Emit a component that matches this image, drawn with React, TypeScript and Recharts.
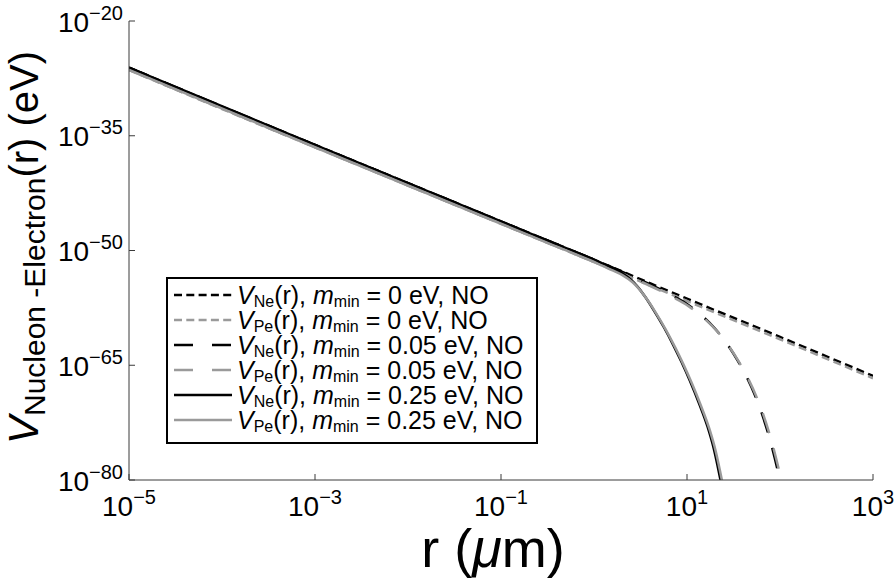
import React from "react";
import { LineChart, Line, XAxis, YAxis, Legend } from "recharts";

const FONT = "'Liberation Sans', Arial, Helvetica, sans-serif";
const FRAME = "#3a3a3a";
const BLACK = "#000000";
const GRAY = "#9a9a9a";

// decades labelled on each axis
const xTickExps = [-5, -3, -1, 1, 3];
const yTickExps = [-80, -65, -50, -35, -20];

// log10 r (µm) and log10 V (eV) along each curve
const zeroLogR = [-5, -4, -3, -2, -1, 0, 1, 2, 3];
const zeroNeLogV = [-26.1, -31.2, -36.2, -41.2, -46.2, -51.2, -56.3, -61.3, -66.4];
const zeroPeLogV = [-26.4, -31.5, -36.5, -41.5, -46.5, -51.5, -56.6, -61.6, -66.7];

const lightNeLogR = [-5, -3, -1, 0, 0.5, 0.78, 1.0, 1.14, 1.3, 1.43, 1.55, 1.64, 1.74, 1.79, 1.87, 1.92, 1.98, 2.0];
const lightNeLogV = [-26.1, -36.2, -46.2, -51.2, -53.85, -55.5, -57.0, -58.3, -60.2, -62.2, -64.5, -66.5, -69.2, -70.8, -73.8, -76.0, -79.0, -80.1];
const lightPeLogR = [-5, -3, -1, 0, 0.52, 0.8, 1.02, 1.16, 1.32, 1.45, 1.57, 1.66, 1.76, 1.81, 1.89, 1.94, 2.0, 2.02];
const lightPeLogV = [-26.4, -36.5, -46.5, -51.5, -54.15, -55.8, -57.3, -58.6, -60.5, -62.5, -64.8, -66.8, -69.5, -71.1, -74.1, -76.3, -79.3, -80.4];

const heavyNeLogR = [-5, -3, -1, -0.5, 0, 0.1, 0.2, 0.3, 0.4, 0.47, 0.55, 0.64, 0.75, 0.85, 0.94, 1.03, 1.13, 1.22, 1.29, 1.36];
const heavyNeLogV = [-26.1, -36.2, -46.2, -48.7, -51.2, -51.75, -52.3, -52.95, -53.85, -54.75, -56.05, -57.75, -60.0, -62.3, -64.55, -67.0, -70.0, -73.0, -76.0, -80.0];
const heavyPeLogR = [-5, -3, -1, -0.5, 0, 0.1, 0.2, 0.31, 0.415, 0.487, 0.568, 0.66, 0.77, 0.87, 0.96, 1.05, 1.15, 1.24, 1.31, 1.38];
const heavyPeLogV = [-26.4, -36.5, -46.5, -49.0, -51.5, -52.05, -52.6, -53.25, -54.15, -55.05, -56.35, -58.05, -60.3, -62.6, -64.85, -67.3, -70.3, -73.3, -76.3, -80.3];

const toPoints = (logR: number[], logV: number[]) =>
  logR.map((lr, i) => ({ r: 10 ** lr, v: 10 ** logV[i] }));

const SHORT_DASH = "8 4.5";
const LONG_DASH = "21 16";

const series = [
  { id: "zeroNe", nucleon: "Ne", mass: "0", color: BLACK, dash: SHORT_DASH, legendDash: "8 4.3", points: toPoints(zeroLogR, zeroNeLogV) },
  { id: "zeroPe", nucleon: "Pe", mass: "0", color: GRAY, dash: SHORT_DASH, legendDash: "8 4.3", points: toPoints(zeroLogR, zeroPeLogV) },
  { id: "lightNe", nucleon: "Ne", mass: "0.05", color: BLACK, dash: LONG_DASH, legendDash: "19 19", points: toPoints(lightNeLogR, lightNeLogV) },
  { id: "lightPe", nucleon: "Pe", mass: "0.05", color: GRAY, dash: LONG_DASH, legendDash: "19 19", points: toPoints(lightPeLogR, lightPeLogV) },
  { id: "heavyNe", nucleon: "Ne", mass: "0.25", color: BLACK, dash: undefined, legendDash: undefined, points: toPoints(heavyNeLogR, heavyNeLogV) },
  { id: "heavyPe", nucleon: "Pe", mass: "0.25", color: GRAY, dash: undefined, legendDash: undefined, points: toPoints(heavyPeLogR, heavyPeLogV) },
];

const xTicks = xTickExps.map((e) => 10 ** e);
const yTicks = yTickExps.map((e) => 10 ** e);
const xDomain = [xTicks[0], xTicks[xTicks.length - 1]];
const yDomain = [yTicks[0], yTicks[yTicks.length - 1]];

const expText = (v: number) => {
  const e = Math.round(Math.log10(v));
  return e < 0 ? "\u2212" + Math.abs(e) : String(e);
};

const TICK_LEN = 6;

function BottomTick({ x, y, payload }: any) {
  return (
    <g>
      <line x1={x} x2={x} y1={y} y2={y - TICK_LEN} stroke={FRAME} />
      <text x={x} y={y + 36} textAnchor="middle" fontFamily={FONT} fontSize={28} fill="#000">
        10
        <tspan fontSize={20} dy={-12}>{expText(payload.value)}</tspan>
      </text>
    </g>
  );
}

function TopTick({ x, y }: any) {
  return <line x1={x} x2={x} y1={y} y2={y + TICK_LEN} stroke={FRAME} />;
}

function LeftTick({ x, y, payload }: any) {
  return (
    <g>
      <line x1={x} x2={x + TICK_LEN} y1={y} y2={y} stroke={FRAME} />
      <text x={x - 6} y={y + 10.5} textAnchor="end" fontFamily={FONT} fontSize={28} fill="#000">
        10
        <tspan fontSize={20} dy={-12}>{expText(payload.value)}</tspan>
      </text>
    </g>
  );
}

function RightTick({ x, y }: any) {
  return <line x1={x} x2={x - TICK_LEN} y1={y} y2={y} stroke={FRAME} />;
}

function XTitle({ viewBox }: any) {
  const cx = viewBox.x + viewBox.width / 2 - 8;
  return (
    <text x={cx} y={viewBox.y + 87} textAnchor="middle" fontFamily={FONT} fontSize={54} fill="#000" style={{ whiteSpace: "pre" }}>
      r (<tspan fontStyle="italic">μ</tspan>m)
    </text>
  );
}

function YTitle({ viewBox }: any) {
  const cx = 38;
  const cy = viewBox.y + viewBox.height / 2 - 3;
  return (
    <text
      x={cx}
      y={cy}
      transform={`rotate(-90, ${cx}, ${cy})`}
      textAnchor="middle"
      fontFamily={FONT}
      fontSize={40}
      fill="#000"
      style={{ whiteSpace: "pre" }}
    >
      <tspan fontStyle="italic" fontSize={42}>V</tspan>
      <tspan fontSize={30} dy={7}>Nucleon -Electron</tspan>
      <tspan dy={-7}>(r) (eV)</tspan>
    </text>
  );
}

function LegendBox() {
  return (
    <svg width={372} height={167} style={{ display: "block" }}>
      <rect x={1} y={1} width={370} height={165} fill="#fff" stroke="#000" strokeWidth={2} />
      {series.map((s, i) => {
        const cy = 18 + i * 25;
        return (
          <g key={s.id}>
            <line x1={8} x2={66} y1={cy} y2={cy} stroke={s.color} strokeWidth={2.5} strokeDasharray={s.legendDash} />
            <text x={71} y={cy + 8.5} fontFamily={FONT} fontSize={25} fill="#000" style={{ whiteSpace: "pre" }}>
              <tspan fontStyle="italic">V</tspan>
              <tspan fontSize={16} dy={3.5}>{s.nucleon}</tspan>
              <tspan dy={-3.5}>(r), </tspan>
              <tspan fontStyle="italic">m</tspan>
              <tspan fontSize={16} dy={3.5}>min</tspan>
              <tspan dy={-3.5}>{` = ${s.mass} eV, NO`}</tspan>
            </text>
          </g>
        );
      })}
    </svg>
  );
}

export default function App() {
  return (
    <div style={{ position: "absolute", left: 0, top: 0, width: 896, height: 580, background: "#fff" }}>
      <LineChart width={896} height={580} margin={{ top: 21, right: 23, bottom: 0, left: 0 }}>
        <XAxis
          xAxisId="bottom"
          type="number"
          dataKey="r"
          scale="log"
          domain={xDomain}
          ticks={xTicks}
          interval={0}
          allowDataOverflow
          height={100}
          tickSize={0}
          tickMargin={0}
          tickLine={false}
          axisLine={{ stroke: FRAME, strokeWidth: 1 }}
          tick={(p: any) => <BottomTick {...p} />}
          label={(p: any) => <XTitle {...p} />}
        />
        <XAxis
          xAxisId="top"
          orientation="top"
          type="number"
          dataKey="r"
          scale="log"
          domain={xDomain}
          ticks={xTicks}
          interval={0}
          allowDataOverflow
          height={0}
          tickSize={0}
          tickMargin={0}
          tickLine={false}
          axisLine={{ stroke: FRAME, strokeWidth: 1 }}
          tick={(p: any) => <TopTick {...p} />}
        />
        <YAxis
          yAxisId="left"
          type="number"
          dataKey="v"
          scale="log"
          domain={yDomain}
          ticks={yTicks}
          interval={0}
          allowDataOverflow
          width={129}
          tickSize={0}
          tickMargin={0}
          tickLine={false}
          axisLine={{ stroke: FRAME, strokeWidth: 1 }}
          tick={(p: any) => <LeftTick {...p} />}
          label={(p: any) => <YTitle {...p} />}
        />
        <YAxis
          yAxisId="right"
          orientation="right"
          type="number"
          dataKey="v"
          scale="log"
          domain={yDomain}
          ticks={yTicks}
          interval={0}
          allowDataOverflow
          width={0}
          tickSize={0}
          tickMargin={0}
          tickLine={false}
          axisLine={{ stroke: FRAME, strokeWidth: 1 }}
          tick={(p: any) => <RightTick {...p} />}
        />
        {series.map((s) => (
          <Line
            key={s.id}
            xAxisId="bottom"
            yAxisId="left"
            data={s.points}
            dataKey="v"
            type="monotone"
            stroke={s.color}
            strokeWidth={2.5}
            strokeDasharray={s.dash}
            dot={false}
            activeDot={false}
            isAnimationActive={false}
          />
        ))}
        <Legend
          layout="vertical"
          align="center"
          verticalAlign="middle"
          content={() => <LegendBox />}
          wrapperStyle={{ left: 166, top: 277, width: 372, height: 167 }}
        />
      </LineChart>
    </div>
  );
}
